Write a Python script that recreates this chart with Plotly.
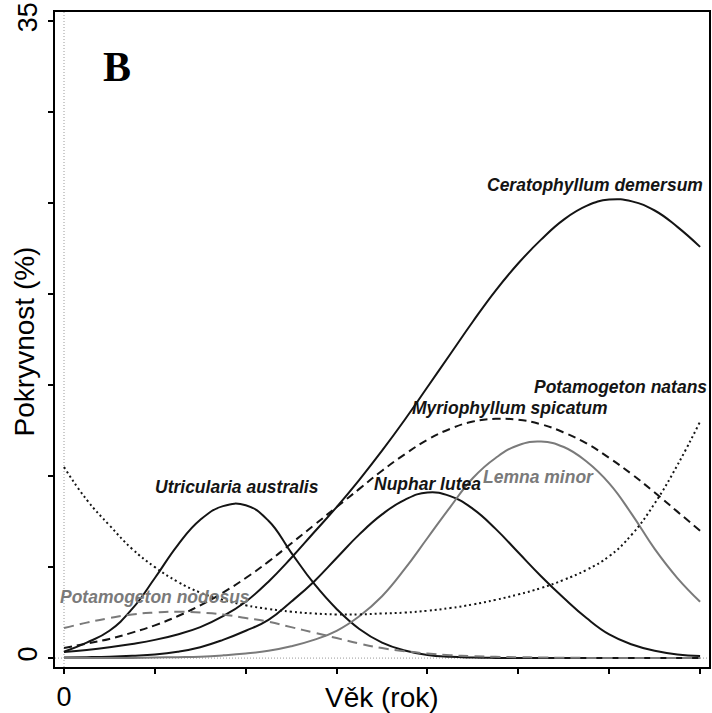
import plotly.graph_objects as go

# ---- data (age in years, cover in %) ----
age = [0, 2.5, 5, 7.5, 10, 12.5, 15, 17.5, 20, 22.5, 25, 27.5, 30, 32.5, 35,
       37.5, 40, 42.5, 45, 47.5, 50, 52.5, 55, 57.5, 60, 62.5, 65, 67.5, 70]

ceratophyllum = [0.33, 0.45, 0.6, 0.78, 1.0, 1.3, 1.7, 2.3, 3.1, 4.2, 5.5, 6.9, 8.3, 9.8, 11.4,
                 13.1, 14.9, 16.7, 18.5, 20.2, 21.7, 23.0, 24.1, 24.85, 25.2, 25.1, 24.6, 23.7, 22.6]
myriophyllum = [0.55, 0.8, 1.05, 1.4, 1.8, 2.3, 2.9, 3.6, 4.4, 5.3, 6.3, 7.3, 8.3, 9.3, 10.3,
                11.2, 12.0, 12.6, 13.0, 13.15, 13.1, 12.85, 12.4, 11.8, 11.0, 10.1, 9.1, 8.05, 7.0]
utricularia = [0.35, 0.85, 1.5, 2.7, 4.4, 6.2, 7.6, 8.35, 8.4, 7.55, 5.8, 4.1, 2.7, 1.6, 0.85,
               0.42, 0.17, 0.07, 0.03, 0.01, 0, 0, 0, 0, 0, 0, 0, 0, 0]
nuphar = [0.03, 0.05, 0.08, 0.13, 0.2, 0.35, 0.6, 1.0, 1.5, 2.1, 3.1, 4.2, 5.5, 6.8, 7.9,
          8.7, 9.1, 8.9, 8.2, 7.1, 5.8, 4.5, 3.3, 2.2, 1.3, 0.75, 0.4, 0.2, 0.12]
lemna = [0, 0, 0, 0.01, 0.03, 0.05, 0.08, 0.15, 0.25, 0.4, 0.65, 1.0, 1.5, 2.3, 3.4,
         4.9, 6.6, 8.3, 9.9, 11.0, 11.7, 11.9, 11.6, 10.8, 9.6, 7.9, 6.0, 4.4, 3.1]
pot_natans = [10.5, 8.7, 7.3, 6.0, 5.0, 4.2, 3.6, 3.2, 2.9, 2.7, 2.55, 2.45, 2.4, 2.4, 2.45,
              2.5, 2.6, 2.75, 2.95, 3.2, 3.5, 3.85, 4.3, 4.85, 5.6, 6.8, 8.5, 10.6, 13.0]
pot_nodosus = [1.65, 1.95, 2.2, 2.4, 2.5, 2.55, 2.5, 2.4, 2.2, 2.0, 1.7, 1.4, 1.1, 0.8, 0.55,
               0.38, 0.25, 0.16, 0.1, 0.07, 0.05, 0.03, 0.02, 0.01, 0.01, 0, 0, 0, 0]

x_ticks = [0, 10, 20, 30, 40, 50, 60, 70]
x_ticktext = ["0", "", "", "", "", "", "", "70"]
y_ticks = [0, 5, 10, 15, 20, 25, 30, 35]
y_ticktext = ["0", "", "", "", "", "", "", "35"]

# label name, x, y, colour key
labels = [
    ("Ceratophyllum demersum", 58.4, 26.0, "k"),
    ("Potamogeton natans", 61.2, 14.9, "k"),
    ("Myriophyllum spicatum", 49.0, 13.75, "k"),
    ("Nuphar lutea", 40.0, 9.57, "k"),
    ("Lemna minor", 52.2, 9.95, "g"),
    ("Utricularia australis", 19.0, 9.4, "k"),
    ("Potamogeton nodosus", 10.0, 3.37, "g"),
]

BLACK = "#141414"
GREY = "#7a7a7a"
FONT = "Arial, Liberation Sans, sans-serif"

series = [
    (ceratophyllum, BLACK, "solid"),
    (myriophyllum, BLACK, "8px,5px"),
    (utricularia, BLACK, "solid"),
    (nuphar, BLACK, "solid"),
    (lemna, GREY, "solid"),
    (pot_natans, BLACK, "2px,3px"),
    (pot_nodosus, GREY, "10px,6px"),
]

fig = go.Figure()
for ys, col, dash in series:
    fig.add_trace(go.Scatter(x=age, y=ys, mode="lines",
                             line=dict(color=col, width=2, dash=dash, shape="spline", smoothing=1.3),
                             showlegend=False, hoverinfo="skip"))

# reference lines at x=0, y=0
fig.add_shape(type="line", xref="x", yref="paper", x0=0, x1=0, y0=0, y1=1,
              line=dict(color="#9a9a9a", width=1, dash="1px,2px"), layer="below")
fig.add_shape(type="line", xref="paper", yref="y", x0=0, x1=1, y0=0, y1=0,
              line=dict(color="#9a9a9a", width=1, dash="1px,2px"), layer="below")

for text, lx, ly, c in labels:
    fig.add_annotation(x=lx, y=ly, text="<b><i>%s</i></b>" % text, showarrow=False,
                       xanchor="center", yanchor="middle",
                       font=dict(family=FONT, size=17.5, color=BLACK if c == "k" else GREY))

fig.add_annotation(x=5.8, y=32.5, text="<b>B</b>", showarrow=False,
                   xanchor="center", yanchor="middle",
                   font=dict(family="Liberation Serif, Times New Roman, serif", size=42, color="black"))

fig.add_annotation(xref="paper", yref="paper", x=0.5, y=-0.046, text="Věk (rok)",
                   showarrow=False, xanchor="center", yanchor="middle",
                   font=dict(family=FONT, size=28, color="black"))
fig.add_annotation(xref="paper", yref="paper", x=-0.046, y=0.497, text="Pokryvnost (%)",
                   showarrow=False, xanchor="center", yanchor="middle", textangle=-90,
                   font=dict(family=FONT, size=28, color="black"))

fig.update_layout(
    width=712, height=713,
    margin=dict(l=55, r=1, t=12, b=45, pad=0),
    paper_bgcolor="white", plot_bgcolor="white",
    xaxis=dict(range=[-0.99, 70.98], showgrid=False, zeroline=False,
               showline=True, linecolor="black", linewidth=2, mirror=True,
               ticks="outside", ticklen=5, tickwidth=2, tickcolor="black",
               tickvals=x_ticks, ticktext=x_ticktext,
               tickfont=dict(family=FONT, size=27, color="black")),
    yaxis=dict(range=[-0.49, 35.51], showgrid=False, zeroline=False,
               showline=True, linecolor="black", linewidth=2, mirror=True,
               ticks="outside", ticklen=5, tickwidth=2, tickcolor="black",
               tickvals=y_ticks, ticktext=y_ticktext, tickangle=-90,
               tickfont=dict(family=FONT, size=27, color="black")),
)

fig.write_html("out.html")
